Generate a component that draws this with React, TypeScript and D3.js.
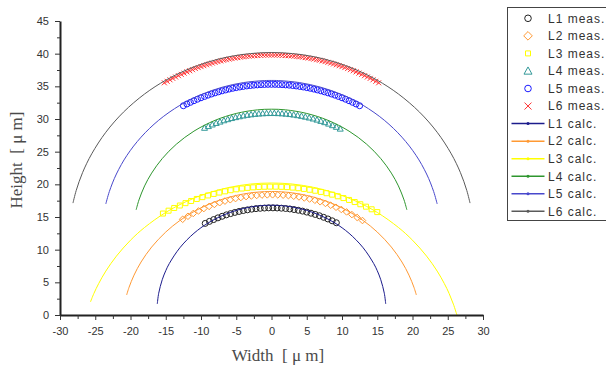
import React, { useEffect, useRef } from "react";
import * as d3 from "d3";

type Pt = [number, number];

// axis ticks
const xTicks = [-30, -25, -20, -15, -10, -5, 0, 5, 10, 15, 20, 25, 30];
const yTicks = [0, 5, 10, 15, 20, 25, 30, 35, 40, 45];
const xMinor = [-27.5, -22.5, -17.5, -12.5, -7.5, -2.5, 2.5, 7.5, 12.5, 17.5, 22.5, 27.5];
const yMinor = [2.5, 7.5, 12.5, 17.5, 22.5, 27.5, 32.5, 37.5, 42.5];

// measured points
const l1Meas: Pt[] = [
  [-9.4, 14.02], [-8.8, 14.33], [-8.2, 14.61], [-7.6, 14.87], [-7.0, 15.11], [-6.4, 15.33],
  [-5.8, 15.52], [-5.2, 15.7], [-4.6, 15.85], [-4.0, 15.99], [-3.4, 16.1], [-2.8, 16.2],
  [-2.2, 16.28], [-1.6, 16.33], [-1.0, 16.37], [-0.4, 16.4], [0.2, 16.4], [0.8, 16.38],
  [1.4, 16.35], [2.0, 16.3], [2.6, 16.23], [3.2, 16.14], [3.8, 16.03], [4.4, 15.9],
  [5.0, 15.75], [5.6, 15.58], [6.2, 15.39], [6.8, 15.19], [7.4, 14.95], [8.0, 14.7],
  [8.6, 14.42], [9.2, 14.12],
];
const l2Meas: Pt[] = [
  [-12.6, 14.65], [-11.85, 15.11], [-11.1, 15.54], [-10.35, 15.93], [-9.6, 16.29], [-8.85, 16.62],
  [-8.1, 16.92], [-7.35, 17.19], [-6.6, 17.43], [-5.85, 17.64], [-5.1, 17.82], [-4.35, 17.98],
  [-3.6, 18.12], [-2.85, 18.22], [-2.1, 18.3], [-1.35, 18.36], [-0.6, 18.39], [0.15, 18.4],
  [0.9, 18.38], [1.65, 18.34], [2.4, 18.27], [3.15, 18.18], [3.9, 18.07], [4.65, 17.92],
  [5.4, 17.75], [6.15, 17.56], [6.9, 17.33], [7.65, 17.08], [8.4, 16.8], [9.15, 16.49],
  [9.9, 16.15], [10.65, 15.78], [11.4, 15.37], [12.15, 14.93], [12.9, 14.46],
];
const l3Meas: Pt[] = [
  [-15.4, 15.53], [-14.6, 15.97], [-13.8, 16.38], [-13.0, 16.76], [-12.2, 17.12], [-11.4, 17.45],
  [-10.6, 17.76], [-9.8, 18.04], [-9.0, 18.3], [-8.2, 18.53], [-7.4, 18.74], [-6.6, 18.93],
  [-5.8, 19.1], [-5.0, 19.24], [-4.2, 19.36], [-3.4, 19.46], [-2.6, 19.54], [-1.8, 19.6],
  [-1.0, 19.63], [-0.2, 19.65], [0.6, 19.64], [1.4, 19.62], [2.2, 19.57], [3.0, 19.5],
  [3.8, 19.41], [4.6, 19.3], [5.4, 19.17], [6.2, 19.02], [7.0, 18.84], [7.8, 18.64],
  [8.6, 18.42], [9.4, 18.17], [10.2, 17.9], [11.0, 17.61], [11.8, 17.29], [12.6, 16.95],
  [13.4, 16.58], [14.2, 16.18], [15.0, 15.75],
];
const l4Meas: Pt[] = [
  [-9.5, 28.64], [-8.95, 28.9], [-8.4, 29.15], [-7.85, 29.38], [-7.3, 29.59], [-6.75, 29.79],
  [-6.2, 29.96], [-5.65, 30.13], [-5.1, 30.27], [-4.55, 30.4], [-4.0, 30.52], [-3.45, 30.62],
  [-2.9, 30.7], [-2.35, 30.77], [-1.8, 30.82], [-1.25, 30.86], [-0.7, 30.89], [-0.15, 30.9],
  [0.4, 30.9], [0.95, 30.88], [1.5, 30.85], [2.05, 30.8], [2.6, 30.74], [3.15, 30.66],
  [3.7, 30.57], [4.25, 30.47], [4.8, 30.34], [5.35, 30.21], [5.9, 30.06], [6.45, 29.89],
  [7.0, 29.7], [7.55, 29.5], [8.1, 29.28], [8.65, 29.04], [9.2, 28.79], [9.75, 28.51],
];
const l5Meas: Pt[] = [
  [-12.5, 32.03], [-12.0, 32.3], [-11.5, 32.55], [-11.0, 32.8], [-10.5, 33.03], [-10.0, 33.25],
  [-9.5, 33.45], [-9.0, 33.65], [-8.5, 33.83], [-8.0, 34.0], [-7.5, 34.16], [-7.0, 34.31],
  [-6.5, 34.45], [-6.0, 34.58], [-5.5, 34.7], [-5.0, 34.8], [-4.5, 34.9], [-4.0, 34.98],
  [-3.5, 35.06], [-3.0, 35.12], [-2.5, 35.18], [-2.0, 35.22], [-1.5, 35.26], [-1.0, 35.28],
  [-0.5, 35.3], [0.0, 35.3], [0.5, 35.3], [1.0, 35.28], [1.5, 35.26], [2.0, 35.22],
  [2.5, 35.18], [3.0, 35.12], [3.5, 35.06], [4.0, 34.98], [4.5, 34.9], [5.0, 34.8],
  [5.5, 34.7], [6.0, 34.58], [6.5, 34.45], [7.0, 34.31], [7.5, 34.16], [8.0, 34.0],
  [8.5, 33.83], [9.0, 33.65], [9.5, 33.45], [10.0, 33.25], [10.5, 33.03], [11.0, 32.8],
  [11.5, 32.55], [12.0, 32.3], [12.5, 32.03],
];
const l6Meas: Pt[] = [
  [-15.2, 35.54], [-14.8, 35.77], [-14.4, 36.0], [-14.0, 36.22], [-13.6, 36.43], [-13.2, 36.63],
  [-12.8, 36.83], [-12.4, 37.02], [-12.0, 37.21], [-11.6, 37.38], [-11.2, 37.55], [-10.8, 37.72],
  [-10.4, 37.87], [-10.0, 38.02], [-9.6, 38.16], [-9.2, 38.3], [-8.8, 38.43], [-8.4, 38.56],
  [-8.0, 38.67], [-7.6, 38.79], [-7.2, 38.89], [-6.8, 38.99], [-6.4, 39.08], [-6.0, 39.17],
  [-5.6, 39.25], [-5.2, 39.33], [-4.8, 39.4], [-4.4, 39.46], [-4.0, 39.52], [-3.6, 39.58],
  [-3.2, 39.62], [-2.8, 39.66], [-2.4, 39.7], [-2.0, 39.73], [-1.6, 39.76], [-1.2, 39.78],
  [-0.8, 39.79], [-0.4, 39.8], [0.0, 39.8], [0.4, 39.8], [0.8, 39.79], [1.2, 39.78],
  [1.6, 39.76], [2.0, 39.73], [2.4, 39.7], [2.8, 39.66], [3.2, 39.62], [3.6, 39.58],
  [4.0, 39.52], [4.4, 39.46], [4.8, 39.4], [5.2, 39.33], [5.6, 39.25], [6.0, 39.17],
  [6.4, 39.08], [6.8, 38.99], [7.2, 38.89], [7.6, 38.79], [8.0, 38.67], [8.4, 38.56],
  [8.8, 38.43], [9.2, 38.3], [9.6, 38.16], [10.0, 38.02], [10.4, 37.87], [10.8, 37.72],
  [11.2, 37.55], [11.6, 37.38], [12.0, 37.21], [12.4, 37.02], [12.8, 36.83], [13.2, 36.63],
  [13.6, 36.43], [14.0, 36.22], [14.4, 36.0], [14.8, 35.77], [15.2, 35.54],
];

// calculated profiles
const l1Calc: Pt[] = [
  [-16.2, 1.7], [-16.0, 3.33], [-15.5, 5.4], [-15.0, 6.78], [-14.5, 7.87], [-13, 10.29],
  [-11, 12.51], [-9, 14.08], [-7, 15.21], [-5, 16.01], [-3, 16.52], [-1, 16.77], [0, 16.8],
  [1, 16.77], [3, 16.52], [5, 16.01], [7, 15.21], [9, 14.08], [11, 12.51], [13, 10.29],
  [14.5, 7.87], [15.0, 6.78], [15.5, 5.4], [16.0, 3.33], [16.2, 1.7],
];
const l2Calc: Pt[] = [
  [-20.55, 3.06], [-20.2, 4.25], [-19.5, 6.1], [-18.5, 8.11], [-17, 10.4], [-15, 12.7],
  [-13, 14.46], [-11, 15.83], [-9, 16.9], [-7, 17.71], [-5, 18.3], [-3, 18.69], [-1, 18.88],
  [0, 18.9], [1, 18.88], [3, 18.69], [5, 18.3], [7, 17.71], [9, 16.9], [11, 15.83],
  [13, 14.46], [15, 12.7], [17, 10.4], [18.5, 8.11], [19.5, 6.1], [20.2, 4.25], [20.55, 3.06],
];
const l3Calc: Pt[] = [
  [-25.68, 2.0], [-25.2, 3.28], [-24.5, 4.84], [-23.5, 6.72], [-22, 9.01], [-20, 11.45],
  [-18, 13.4], [-15, 15.7], [-12, 17.41], [-9, 18.67], [-6, 19.53], [-3, 20.04], [0, 20.2],
  [3, 20.04], [6, 19.53], [9, 18.67], [12, 17.41], [15, 15.7], [18, 13.4], [20, 11.45],
  [22, 9.01], [23.5, 6.72], [24.5, 4.84], [25.2, 3.28], [25.8, 1.66], [26.3, 0],
];
const l4Calc: Pt[] = [
  [-19.2, 16.1], [-18.8, 17.61], [-18, 19.76], [-17, 21.72], [-15.5, 23.94], [-13.5, 26.14],
  [-11, 28.14], [-8, 29.8], [-5, 30.85], [-2, 31.4], [0, 31.5], [2, 31.4], [5, 30.85],
  [8, 29.8], [11, 28.14], [13.5, 26.14], [15.5, 23.94], [17, 21.72], [18, 19.76],
  [18.8, 17.61], [19.2, 16.1],
];
const l5Calc: Pt[] = [
  [-23.5, 17.0], [-23, 18.9], [-22, 21.58], [-20.5, 24.44], [-18.5, 27.22], [-16, 29.81],
  [-13, 32.09], [-10, 33.72], [-7, 34.86], [-4, 35.57], [-1, 35.88], [0, 35.9], [1, 35.88],
  [4, 35.57], [7, 34.86], [10, 33.72], [13, 32.09], [16, 29.81], [18.5, 27.22],
  [20.5, 24.44], [22, 21.58], [23, 18.9], [23.5, 17.0],
];
const l6Calc: Pt[] = [
  [-28.16, 17.13], [-27.7, 19.06], [-26.8, 21.79], [-25.5, 24.67], [-23.5, 27.97], [-21, 31.05],
  [-18, 33.83], [-15, 35.94], [-12, 37.54], [-9, 38.72], [-6, 39.54], [-3, 40.01], [0, 40.17],
  [3, 40.01], [6, 39.54], [9, 38.72], [12, 37.54], [15, 35.94], [18, 33.83], [21, 31.05],
  [23.5, 27.97], [25.5, 24.67], [26.8, 21.79], [27.7, 19.06], [28.16, 17.13],
];

const measSeries = [
  { name: "L1 meas.", data: l1Meas, shape: "circle", color: "#222222", size: 3, legSize: 3.3 },
  { name: "L2 meas.", data: l2Meas, shape: "diamond", color: "#ff9933", size: 3.3, legSize: 4.3 },
  { name: "L3 meas.", data: l3Meas, shape: "square", color: "#ffff00", size: 2.5, legSize: 2.5 },
  { name: "L4 meas.", data: l4Meas, shape: "triangle", color: "#339999", size: 3, legSize: 4 },
  { name: "L5 meas.", data: l5Meas, shape: "circle", color: "#1a1aff", size: 3, legSize: 3.3 },
  { name: "L6 meas.", data: l6Meas, shape: "cross", color: "#ff3333", size: 2.5, legSize: 3.5 },
];

const calcSeries = [
  { name: "L1 calc.", data: l1Calc, color: "#1c1c8c" },
  { name: "L2 calc.", data: l2Calc, color: "#ff9933" },
  { name: "L3 calc.", data: l3Calc, color: "#ffff00" },
  { name: "L4 calc.", data: l4Calc, color: "#2e962e" },
  { name: "L5 calc.", data: l5Calc, color: "#4848cc" },
  { name: "L6 calc.", data: l6Calc, color: "#5a5a5a" },
];

function markerPath(shape: string, s: number) {
  switch (shape) {
    case "diamond":
      return `M0,${-s}L${s},0L0,${s}L${-s},0Z`;
    case "square":
      return `M${-s},${-s}H${s}V${s}H${-s}Z`;
    case "triangle":
      return `M0,${-s}L${s},${s * 0.8}L${-s},${s * 0.8}Z`;
    case "cross":
      return `M${-s},${-s}L${s},${s}M${-s},${s}L${s},${-s}`;
    default:
      return `M${s},0A${s},${s} 0 1,1 ${-s},0A${s},${s} 0 1,1 ${s},0Z`;
  }
}

const App: React.FC = () => {
  const svgRef = useRef<SVGSVGElement | null>(null);

  useEffect(() => {
    const svg = d3.select(svgRef.current);
    svg.selectAll("*").remove();

    const w = 606;
    const h = 367;
    svg.attr("width", w).attr("height", h).style("background", "#ffffff");

    const x = d3.scaleLinear().domain([-30, 30]).range([60, 483]);
    const y = d3.scaleLinear().domain([0, 45]).range([315, 21]);

    const font = "'Liberation Sans', Arial, sans-serif";
    const serif = "'Liberation Serif', 'Times New Roman', serif";

    // measured markers
    measSeries.forEach(s => {
      svg.append("g")
        .selectAll("path")
        .data(s.data)
        .enter()
        .append("path")
        .attr("transform", d => `translate(${x(d[0])},${y(d[1])})`)
        .attr("d", markerPath(s.shape, s.size))
        .attr("fill", "none")
        .attr("stroke", s.color)
        .attr("stroke-width", 1);
    });

    // calculated lines
    const line = d3.line<Pt>()
      .x(d => x(d[0]))
      .y(d => y(d[1]))
      .curve(d3.curveCatmullRom.alpha(0.5));

    calcSeries.forEach(s => {
      svg.append("path")
        .attr("d", line(s.data) || "")
        .attr("fill", "none")
        .attr("stroke", s.color)
        .attr("stroke-width", 1);
    });

    // plain hyphen for negatives, like the original
    const fmt = (d: d3.NumberValue) => String(d);

    // x axis
    const gx = svg.append("g").attr("transform", `translate(0,${y(0)})`);
    gx.call(d3.axisBottom(x).tickValues(xTicks).tickFormat(fmt).tickSize(5).tickPadding(7).tickSizeOuter(0));
    gx.append("g").call(d3.axisBottom(x).tickValues(xMinor).tickSize(4).tickFormat(() => ""))
      .select(".domain").remove();

    // y axis
    const gy = svg.append("g").attr("transform", `translate(${x(-30)},0)`);
    gy.call(d3.axisLeft(y).tickValues(yTicks).tickFormat(fmt).tickSize(5).tickPadding(6).tickSizeOuter(0));
    gy.append("g").call(d3.axisLeft(y).tickValues(yMinor).tickSize(3).tickFormat(() => ""))
      .select(".domain").remove();

    [gx, gy].forEach(g => {
      g.selectAll(".domain").attr("stroke", "#222").attr("stroke-width", 2);
      g.selectAll(".tick line").attr("stroke", "#333");
      g.selectAll(".tick text").attr("fill", "#333").style("font-family", font).style("font-size", "11px");
    });

    // axis titles
    svg.append("text")
      .attr("x", 278)
      .attr("y", 361)
      .attr("text-anchor", "middle")
      .style("font-family", serif)
      .style("font-size", "17px")
      .style("white-space", "pre")
      .attr("fill", "#4a4a4a")
      .text("Width  [ μ m]");

    svg.append("text")
      .attr("transform", "rotate(-90)")
      .attr("x", -160)
      .attr("y", 22)
      .attr("text-anchor", "middle")
      .style("font-family", serif)
      .style("font-size", "17px")
      .style("white-space", "pre")
      .attr("fill", "#4a4a4a")
      .text("Height  [ μ m]");

    // legend
    const leg = svg.append("g");
    leg.append("rect")
      .attr("x", 507.5).attr("y", 7.5)
      .attr("width", 130).attr("height", 213)
      .attr("fill", "#fff")
      .attr("stroke", "#444")
      .attr("stroke-width", 1);

    const rowY = (i: number) => 18.3 + i * 17.55;

    measSeries.forEach((s, i) => {
      leg.append("path")
        .attr("transform", `translate(528,${rowY(i)})`)
        .attr("d", markerPath(s.shape, s.legSize))
        .attr("fill", "none")
        .attr("stroke", s.color)
        .attr("stroke-width", 1);
      leg.append("text")
        .attr("x", 548).attr("y", rowY(i) + 4.3)
        .style("font-family", font).style("font-size", "12px").style("letter-spacing", "1px")
        .attr("fill", "#333")
        .text(s.name);
    });

    calcSeries.forEach((s, j) => {
      const i = j + measSeries.length;
      leg.append("line")
        .attr("x1", 511.5).attr("x2", 544.5)
        .attr("y1", rowY(i)).attr("y2", rowY(i))
        .attr("stroke", s.color).attr("stroke-width", 1.5);
      leg.append("circle")
        .attr("cx", 528).attr("cy", rowY(i)).attr("r", 1.5)
        .attr("fill", s.color);
      leg.append("text")
        .attr("x", 548).attr("y", rowY(i) + 4.3)
        .style("font-family", font).style("font-size", "12px").style("letter-spacing", "1px")
        .attr("fill", "#333")
        .text(s.name);
    });
  }, []);

  return (
    <div style={{ position: "absolute", left: 0, top: 0, width: 606, height: 367 }}>
      <svg ref={svgRef}></svg>
    </div>
  );
};

export default App;
